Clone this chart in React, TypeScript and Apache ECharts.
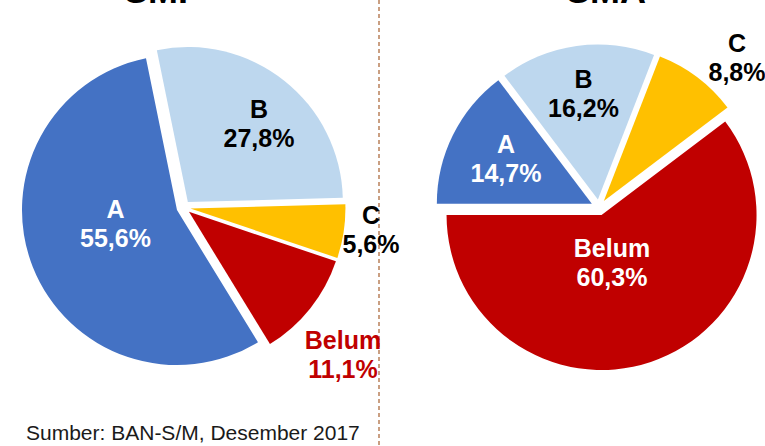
import React, { useEffect, useRef } from "react";
import * as echarts from "echarts";

const categories = ["A", "B", "C", "Belum"];
const smpValues = [55.6, 27.8, 5.6, 11.1];
const smaValues = [14.7, 16.2, 8.8, 60.3];
const titles = ["SMP", "SMA"];
const sourceText = "Sumber: BAN-S/M, Desember 2017";

const sliceColors = ["#4472C4", "#BDD7EE", "#FFC000", "#C00000"];
const smpLabelColors = ["#FFFFFF", "#000000", "#000000", "#C00000"];
const smaLabelColors = ["#FFFFFF", "#000000", "#000000", "#FFFFFF"];
const smpLabelPos = [[115.5, 223], [259, 123], [371, 229], [343, 354]];
const smaLabelPos = [[506, 158], [583.5, 93], [737, 57], [612, 262.5]];

const FONT = "Arial, 'Liberation Sans', sans-serif";

function fmt(v: number) {
  return v.toFixed(1).replace(".", ",") + "%";
}

function makeSeries(
  values: number[],
  center: [number, number],
  startAngle: number,
  offset: number
) {
  return {
    type: "pie",
    center,
    radius: 155,
    startAngle,
    clockwise: true,
    selectedMode: "multiple",
    selectedOffset: offset,
    avoidLabelOverlap: false,
    silent: true,
    emphasis: { disabled: true },
    label: { show: false },
    labelLine: { show: false },
    data: categories.map((name, i) => ({
      name,
      value: values[i],
      selected: true,
      itemStyle: { color: sliceColors[i], borderWidth: 0 },
      select: { itemStyle: { color: sliceColors[i], borderWidth: 0 } },
    })),
  };
}

function makeLabels(values: number[], colors: string[], pos: number[][]) {
  return categories.map((name, i) => ({
    type: "text",
    x: pos[i][0],
    y: pos[i][1],
    z: 10,
    silent: true,
    style: {
      text: name + "\n" + fmt(values[i]),
      fontFamily: FONT,
      fontWeight: "bold",
      fontSize: 25,
      lineHeight: 29,
      fill: colors[i],
      textAlign: "center",
      textVerticalAlign: "middle",
    },
  }));
}

export default function App() {
  const ref = useRef<HTMLDivElement>(null);
  useEffect(() => {
    if (!ref.current) return;
    const chart = echarts.init(ref.current, null, { renderer: "svg" });
    chart.setOption({
      animation: false,
      backgroundColor: "#FFFFFF",
      graphic: [
        {
          type: "line",
          shape: { x1: 379, y1: 0, x2: 379, y2: 446 },
          style: { stroke: "#B9805A", lineWidth: 1.5, lineDash: [4, 3] },
          z: 0,
        },
        {
          type: "text",
          x: 163,
          y: -10,
          style: {
            text: titles[0],
            fontFamily: FONT,
            fontWeight: "bold",
            fontSize: 36,
            fill: "#000",
            textAlign: "center",
            textVerticalAlign: "middle",
          },
        },
        {
          type: "text",
          x: 606,
          y: -10,
          style: {
            text: titles[1],
            fontFamily: FONT,
            fontWeight: "bold",
            fontSize: 36,
            fill: "#000",
            textAlign: "center",
            textVerticalAlign: "middle",
          },
        },
        {
          type: "text",
          x: 26,
          y: 432,
          style: {
            text: sourceText,
            fontFamily: FONT,
            fontSize: 21,
            fill: "#1A1A1A",
            textAlign: "left",
            textVerticalAlign: "middle",
          },
        },
        ...makeLabels(smpValues, smpLabelColors, smpLabelPos),
        ...makeLabels(smaValues, smaLabelColors, smaLabelPos),
      ],
      series: [
        makeSeries(smpValues, [183.5, 207.5], 301.5, 7),
        makeSeries(smaValues, [599, 207.4], 180, 8),
      ],
    });
    return () => chart.dispose();
  }, []);
  return (
    <div
      ref={ref}
      style={{ position: "absolute", left: 0, top: 0, width: 765, height: 446 }}
    />
  );
}
